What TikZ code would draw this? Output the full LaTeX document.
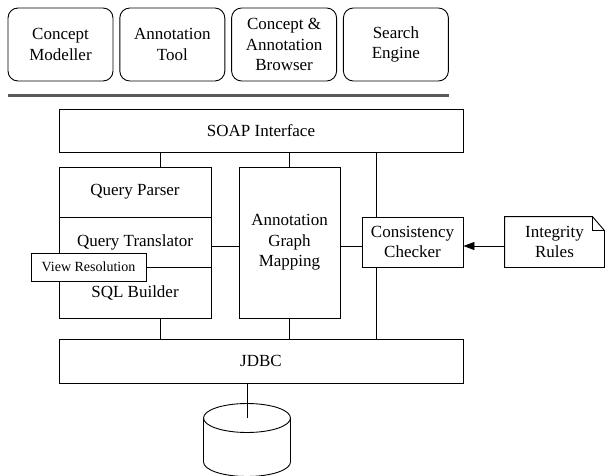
\documentclass[tikz,border=0pt]{standalone}
\usepackage{fontspec}
\setmainfont{Liberation Serif}
\usepackage{tikz}
\usetikzlibrary{arrows.meta}

\begin{document}
\begin{tikzpicture}[x=1pt, y=1pt, >={Triangle[length=11pt, width=8pt]},
    box/.style={draw, line width=0.9pt, fill=white, align=center, inner sep=0pt,
        font=\fontsize{17}{20.5}\selectfont},
    app/.style={box, rounded corners=10pt, minimum width=105, minimum height=73},
    wire/.style={line width=0.8pt},
    sep/.style={line width=3.5pt, color=black!65}]
    \useasboundingbox (0, 0) rectangle (605, 475);
    % client tools
    \node[app] (cm) at (60.5, 430.5) {Concept\\Modeller};
    \node[app] (at) at (172.3, 430.5) {Annotation\\Tool};
    \node[app] (cab) at (284.1, 430.5) {Concept \&\\Annotation\\Browser};
    \node[app] (se) at (395.9, 430.5) {Search\\Engine};
    \draw[sep] ([yshift=-14]cm.south west) -- ([yshift=-14]se.south east);
    % server
    \node[box, minimum width=404, minimum height=43] (soap) at (261, 344.5) {SOAP Interface};
    \node[box, minimum width=152, minimum height=50] (qp) at (135, 283) {Query Parser};
    \node[box, minimum width=152, minimum height=50] (qt) at (135, 233) {Query Translator};
    \node[box, minimum width=152, minimum height=51] (sql) at (135, 182.5) {SQL Builder};
    \node[box, minimum width=115, minimum height=28, font=\fontsize{14}{16}\selectfont]
        (vr) at (88.5, 208) {View Resolution};
    \node[box, minimum width=101, minimum height=151] (agm) at (289.5, 232.5) {Annotation\\Graph\\Mapping};
    \node[box, minimum width=101, minimum height=50] (cc) at (412.5, 233) {Consistency\\Checker};
    \node[box, draw=none, fill=none, minimum width=99, minimum height=50] (ir) at (554.5, 233) {Integrity\\Rules};
    \node[box, minimum width=404, minimum height=44] (jdbc) at (261, 114) {JDBC};
    \coordinate (chk) at (376, 233);
    \coordinate (db) at (247, 57);
    % note shape
    \draw[line width=0.9pt] (ir.south west) -- (ir.north west) -- ([xshift=-12]ir.north east)
        -- ([yshift=-14]ir.north east) -- (ir.south east) -- cycle;
    \draw[line width=0.9pt] ([xshift=-12]ir.north east) |- ([yshift=-14]ir.north east);
    % database
    \draw[line width=0.9pt] (db) ellipse [x radius=43.5, y radius=14.5];
    \draw[line width=0.9pt] ([xshift=-43.5]db) -- ++(0, -44)
        arc [start angle=180, end angle=360, x radius=43.5, y radius=14.5] -- ++(0, 44);
    % connectors
    \draw[wire] ([xshift=25]qp.north) -- ([xshift=25]qp.north |- soap.south);
    \draw[wire] (agm.north) -- (agm.north |- soap.south);
    \draw[wire] (chk |- soap.south) -- (chk |- cc.north);
    \draw[wire] ([xshift=25]sql.south) -- ([xshift=25]sql.south |- jdbc.north);
    \draw[wire] (agm.south) -- (agm.south |- jdbc.north);
    \draw[wire] (chk |- cc.south) -- (chk |- jdbc.north);
    \draw[wire] ([yshift=-4]qt.east) -- ([yshift=-4]qt.east -| agm.west);
    \draw[wire] ([yshift=-4]agm.east |- cc.west) -- ([yshift=-4]cc.west);
    \draw[wire, ->] ([yshift=-4]ir.west) -- ([yshift=-4]cc.east);
    \draw[wire] (db |- jdbc.south) -- (db);
\end{tikzpicture}
\end{document}
